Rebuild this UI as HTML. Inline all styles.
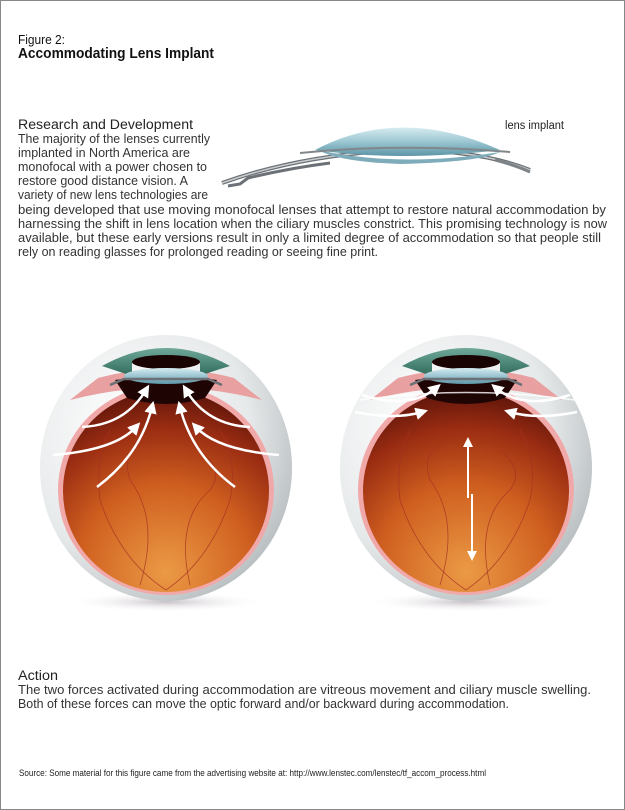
<!DOCTYPE html>
<html><head><meta charset="utf-8"><style>
html,body{margin:0;padding:0;background:#fff}
svg{display:block}
text{font-family:"Liberation Sans",sans-serif}
</style></head><body>
<svg width="625" height="810" viewBox="0 0 625 810">
<defs>
<radialGradient id="globe" cx="0.35" cy="0.35" r="0.8">
<stop offset="0" stop-color="#ffffff"/><stop offset="0.6" stop-color="#e6e9ea"/><stop offset="1" stop-color="#a9b0b3"/></radialGradient>
<radialGradient id="ret" cx="0.5" cy="0.9" r="0.95">
<stop offset="0" stop-color="#eb9a45"/><stop offset="0.45" stop-color="#cf5f1f"/><stop offset="0.75" stop-color="#9a2c12"/><stop offset="1" stop-color="#4e0e08"/></radialGradient>
<linearGradient id="iris" x1="0" y1="0" x2="0" y2="1"><stop offset="0" stop-color="#6fa898"/><stop offset="1" stop-color="#2f6a5a"/></linearGradient>
<linearGradient id="lens" x1="0" y1="0" x2="0" y2="1"><stop offset="0" stop-color="#d6ecf1"/><stop offset="0.5" stop-color="#9cc6d2"/><stop offset="1" stop-color="#5d95a6"/></linearGradient>
<radialGradient id="shad" cx="0.5" cy="0.5" r="0.5"><stop offset="0" stop-color="#c8c2c8"/><stop offset="1" stop-color="#fff" stop-opacity="0"/></radialGradient>
<marker id="ah" markerWidth="5" markerHeight="5" refX="2.5" refY="2.5" orient="auto" markerUnits="strokeWidth">
<path d="M0,0 L5,2.5 L0,5 z" fill="#fff"/></marker>
<g id="eye">
<ellipse cx="166" cy="602" rx="100" ry="10" fill="url(#shad)"/>
<ellipse cx="166" cy="468" rx="126" ry="133" fill="url(#globe)"/>
<ellipse cx="166" cy="490" rx="108" ry="105" fill="#f0a8a8"/>
<ellipse cx="166" cy="491" rx="103" ry="101" fill="url(#ret)"/>
<path d="M98 378 Q166 360 234 378 L262 400 Q166 375 70 400 Z" fill="#e8a0a0"/>
<path d="M115 380 Q166 372 217 380 L205 398 Q166 410 127 398 Z" fill="#1f0404"/>
<path d="M102 366 Q166 330 230 366 Q210 372 200 376 L200 362 Q166 350 132 362 L132 376 Q120 372 102 366 Z" fill="url(#iris)"/>
<ellipse cx="166" cy="362" rx="34" ry="7" fill="#1a0303"/>
<ellipse cx="166" cy="376" rx="42" ry="8" fill="url(#lens)"/>
<path d="M110 385 L124 379 L208 379 L222 385" stroke="#6a7075" stroke-width="2.5" fill="none"/>
<g stroke="#a53224" stroke-width="0.8" fill="none" opacity="0.8">
<path d="M166 590 Q120 560 100 500 Q95 460 110 430"/>
<path d="M166 590 Q210 560 230 500 Q238 460 220 430"/>
<path d="M140 585 Q160 520 130 480 Q120 450 150 440"/>
<path d="M190 585 Q175 520 210 490 Q225 470 200 450"/>
</g>
</g>
</defs>
<rect x="0.5" y="0.5" width="624" height="809" fill="#fff" stroke="#888"/>
<g lengthAdjust="spacingAndGlyphs">
<text x="18" y="44" font-size="13" fill="#111" textLength="47" lengthAdjust="spacingAndGlyphs">Figure 2:</text>
<text x="18" y="58" font-size="14.5" font-weight="bold" fill="#111" textLength="196" lengthAdjust="spacingAndGlyphs">Accommodating Lens Implant</text>
<text x="18" y="129" font-size="13.5" fill="#222" textLength="175" lengthAdjust="spacingAndGlyphs">Research and Development</text>
<text x="505" y="129" font-size="11.5" fill="#222" textLength="59" lengthAdjust="spacingAndGlyphs">lens implant</text>
</g>
<g font-size="12.5" fill="#333">
<text x="18" y="143" textLength="192" lengthAdjust="spacingAndGlyphs">The majority of the lenses currently</text>
<text x="18" y="157" textLength="172" lengthAdjust="spacingAndGlyphs">implanted in North America are</text>
<text x="18" y="171" textLength="189" lengthAdjust="spacingAndGlyphs">monofocal with a power chosen to</text>
<text x="18" y="185" textLength="170" lengthAdjust="spacingAndGlyphs">restore good distance vision.  A</text>
<text x="18" y="199" textLength="190" lengthAdjust="spacingAndGlyphs">variety of new lens technologies are</text>
<text x="18" y="214" textLength="588" lengthAdjust="spacingAndGlyphs">being developed that use moving monofocal lenses that attempt to restore natural accommodation by</text>
<text x="18" y="228" textLength="589" lengthAdjust="spacingAndGlyphs">harnessing the shift in lens location when the ciliary muscles constrict. This promising technology is now</text>
<text x="18" y="242" textLength="583" lengthAdjust="spacingAndGlyphs">available, but these early versions result in only a limited degree of accommodation so that people still</text>
<text x="18" y="256" textLength="360" lengthAdjust="spacingAndGlyphs">rely on reading glasses for prolonged reading or seeing fine print.</text>
</g>
<!-- lens implant -->
<g>
<path d="M222 183 Q300 155 400 150 Q480 150 530 170" stroke="#6b7176" stroke-width="4" fill="none"/>
<path d="M222 183 Q300 155 400 150 Q480 150 530 170" stroke="#c8ccce" stroke-width="1.5" fill="none"/>
<path d="M228 186 L240 184 L248 178 Q290 168 330 163" stroke="#6b7176" stroke-width="3" fill="none"/>
<path d="M315 150 Q400 105 500 150 Q400 162 315 150 Z" fill="url(#lens)"/>
<path d="M318 150 Q400 168 500 152 Q480 162 400 164 Q340 162 318 150 Z" fill="#7eacba"/>
<path d="M300 153 Q400 143 510 152" stroke="#80878b" stroke-width="2" fill="none"/>
<path d="M495 160 Q515 165 530 172" stroke="#7d8387" stroke-width="3" fill="none"/>
</g>
<use href="#eye"/>
<g stroke="#fff" stroke-width="2.5" fill="none" marker-end="url(#ah)">
<path d="M82 427 Q125 425 146 390"/>
<path d="M53 455 Q115 450 136 427"/>
<path d="M97 487 Q140 455 152 407"/>
<path d="M250 427 Q207 425 186 390"/>
<path d="M279 455 Q217 450 196 427"/>
<path d="M235 487 Q192 455 180 407"/>
</g>
<use href="#eye" x="300"/>
<g stroke="#fff" stroke-width="2.5" fill="none" marker-end="url(#ah)">
<path d="M362 395 Q410 410 436 388"/>
<path d="M355 412 Q395 420 422 412"/>
<path d="M570 395 Q522 410 496 388"/>
<path d="M577 412 Q537 420 510 412"/>
</g>
<g stroke="#fff" stroke-width="2" fill="none">
<path d="M360 400 Q466 385 575 400" stroke-width="1.5" opacity="0.8"/>
<path d="M468 498 L468 442" marker-end="url(#ah)"/>
<path d="M472 494 L472 556" marker-end="url(#ah)"/>
</g>
<text x="18" y="680" font-size="13.5" fill="#222" textLength="40" lengthAdjust="spacingAndGlyphs">Action</text>
<text x="18" y="694" font-size="12.5" fill="#333" textLength="573" lengthAdjust="spacingAndGlyphs">The two forces activated during accommodation are vitreous movement and ciliary muscle swelling.</text>
<text x="18" y="708" font-size="12.5" fill="#333" textLength="491" lengthAdjust="spacingAndGlyphs">Both of these forces can move the optic forward and/or backward during accommodation.</text>
<text x="19" y="776" font-size="9" fill="#222" textLength="467" lengthAdjust="spacingAndGlyphs">Source: Some material for this figure came from the advertising website at: http://www.lenstec.com/lenstec/tf_accom_process.html</text>
</svg>
</body></html>
